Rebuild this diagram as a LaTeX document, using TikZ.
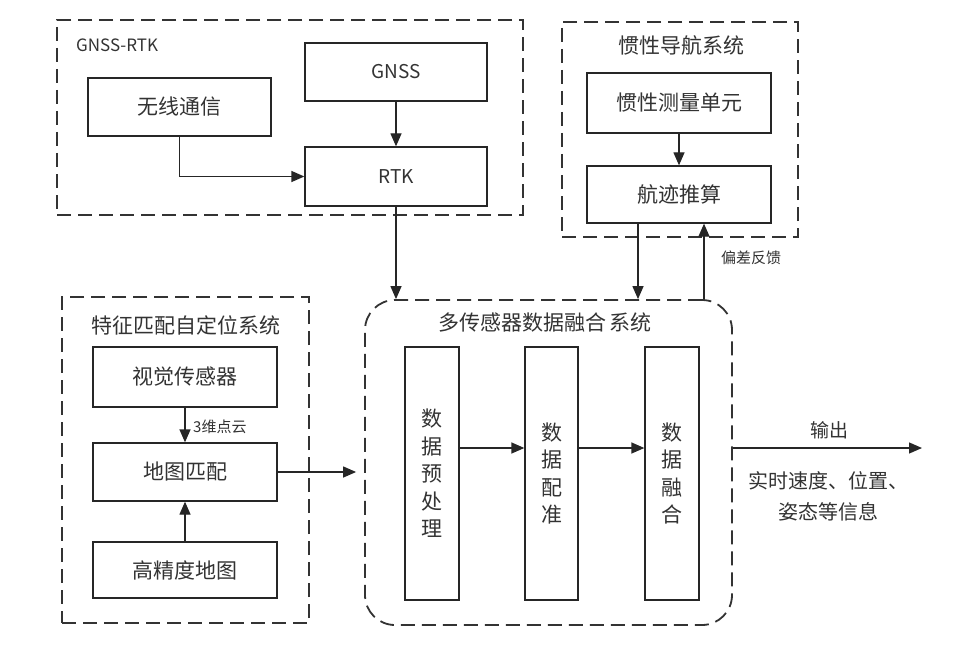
\documentclass[tikz,border=0pt]{standalone}
\usepackage{fontspec}
\setmainfont{Noto Sans CJK SC}
\usetikzlibrary{arrows.meta,calc}
\begin{document}
\begin{tikzpicture}[x=1pt,y=-1pt,
  txt/.style={text=black!80},
  box/.style={draw=black!85,line width=1.3pt,fill=white,inner sep=0pt,txt,font=\fontsize{21}{24}\selectfont},
  vbox/.style={box,font=\fontsize{21}{27.5}\selectfont,align=center},
  grp/.style={draw=black!80,line width=1.8pt,dash pattern=on 14pt off 7pt,inner sep=0pt},
  arr/.style={draw=black!85,line width=1.3pt,-{Triangle[length=13pt,width=11pt]}},
  lbl/.style={txt,font=\fontsize{21}{24}\selectfont,inner sep=0pt},
  small/.style={txt,font=\fontsize{15}{17}\selectfont,inner sep=0pt}
]
\useasboundingbox (0,0) rectangle (968,663);
\fill[white] (0,0) rectangle (968,663);

% groups
\node[grp,minimum width=466pt,minimum height=195pt] (g1) at (290,117.5) {};
\node[grp,minimum width=236pt,minimum height=215pt] (g2) at (680,129.5) {};
\node[grp,minimum width=247pt,minimum height=326pt] (g3) at (185.5,460) {};
\node[grp,rounded corners=30pt,minimum width=367pt,minimum height=325pt] (g4) at (548.5,462.5) {};

% group labels
\node[txt,font=\fontsize{17}{20}\selectfont,anchor=west,inner sep=0pt] (t1) at (76,45) {GNSS-RTK};
\node[lbl] (t2) at (681,45) {惯性导航系统};
\node[lbl] (t3) at (186,325) {特征匹配自定位系统};
\node[lbl] (t4) at (545,323) {多传感器数据融合\,系统};

% GNSS-RTK
\node[box,minimum width=183pt,minimum height=58pt] (wx) at (179.5,107) {无线通信};
\node[box,font=\fontsize{19}{22}\selectfont,minimum width=182pt,minimum height=58pt] (gnss) at (396,72) {GNSS};
\node[box,font=\fontsize{19}{22}\selectfont,minimum width=182pt,minimum height=59pt] (rtk) at (396,176.5) {RTK};

% INS
\node[box,minimum width=184pt,minimum height=60pt] (imu) at (679,103) {惯性测量单元};
\node[box,minimum width=184pt,minimum height=57pt] (dr) at (679,194.5) {航迹推算};

% feature matching
\node[box,minimum width=184pt,minimum height=60pt] (vis) at (185,377) {视觉传感器};
\node[box,minimum width=184pt,minimum height=58pt] (mm) at (185,472) {地图匹配};
\node[box,minimum width=184pt,minimum height=56pt] (hd) at (185,570) {高精度地图};

% fusion
\node[vbox,minimum width=54pt,minimum height=253pt] (b1) at (432,473.5) {数\\据\\预\\处\\理};
\node[vbox,minimum width=53pt,minimum height=253pt] (b2) at (551.5,473.5) {数\\据\\配\\准};
\node[vbox,minimum width=54pt,minimum height=253pt] (b3) at (672,473.5) {数\\据\\融\\合};

% connectors
\draw[arr] (gnss.south) -- (rtk.north);
\draw[arr] (wx.south) |- (rtk.west);
\draw[arr] (rtk.south) -- (rtk.south |- g4.north);
\draw[arr] (imu.south) -- (dr.north);

\coordinate (drOut) at ([xshift=-41pt]dr.south);
\coordinate (fbIn) at ([xshift=25pt]dr.south);
\draw[arr] (drOut) -- (drOut |- g4.north);
\draw[arr] (fbIn |- g4.north) -- (fbIn);
\node[small] (fb) at (751,258) {偏差反馈};

\draw[arr] (vis.south) -- (mm.north);
\node[small,anchor=west] (pc) at (193,427) {3维点云};
\draw[arr] (hd.north) -- (mm.south);
\draw[arr,shorten >=8pt] (mm.east) -- (g4.west |- mm.east);

\draw[arr] ([yshift=25.5pt]b1.east) -- ([yshift=25.5pt]b2.west);
\draw[arr] ([yshift=25.5pt]b2.east) -- ([yshift=25.5pt]b3.west);

\coordinate (outEnd) at (922,448);
\draw[arr] (g4.east |- outEnd) -- (outEnd);
\node[txt,font=\fontsize{19}{22}\selectfont,inner sep=0pt] (outl) at (829,430) {输出};
\node[txt,font=\fontsize{20}{31}\selectfont,align=center,inner sep=0pt] (info) at (828,496) {实时速度、位置、\\姿态等信息};
\end{tikzpicture}
\end{document}
